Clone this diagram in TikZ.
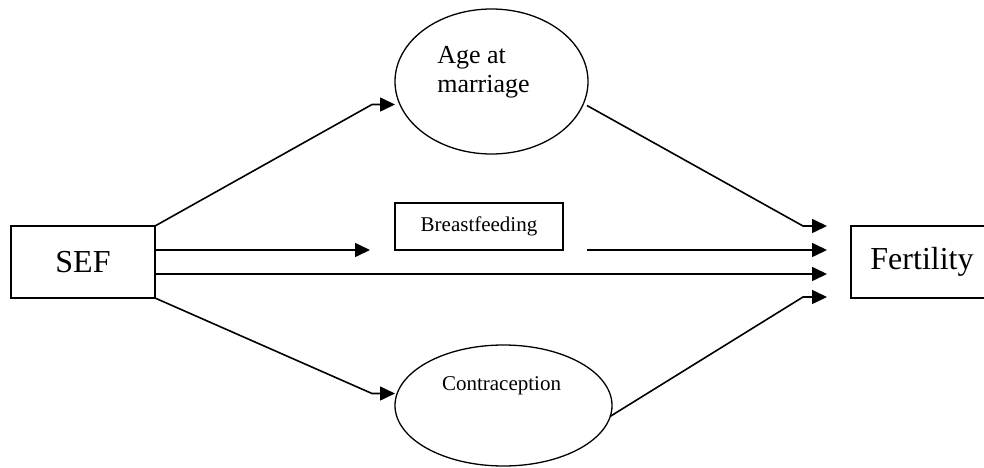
\documentclass[tikz,border=0pt]{standalone}
\usepackage{fontspec}
\setmainfont{Liberation Serif}
\usepackage{tikz}
\usetikzlibrary{arrows.meta,shapes}

\begin{document}
\begin{tikzpicture}[>={Triangle[length=15bp,width=14bp]},line width=1.6bp,every node/.style={outer sep=0pt,inner sep=0pt}]
\useasboundingbox (0bp,0bp) rectangle (984bp,-468bp);
\node (SEF) at (83bp,-262bp)[draw,rectangle,minimum width=144bp,minimum height=72bp,font=\fontsize{32bp}{36bp}\selectfont] {SEF};
\node (Fert) at (922bp,-262bp)[draw,rectangle,minimum width=142bp,minimum height=72bp,font=\fontsize{32bp}{36bp}\selectfont] {Fertility};
\node (Breast) at (479bp,-226.5bp)[draw,rectangle,minimum width=168bp,minimum height=47bp,font=\fontsize{21bp}{24bp}\selectfont] {Breastfeeding};
\node (Age) at (491.5bp,-81.5bp)[draw,ellipse,minimum width=193bp,minimum height=145bp,line width=1.3bp] {};
\node (AgeTxt) at ([xshift=-8bp,yshift=9bp]Age.center)[align=left,font=\fontsize{26bp}{29bp}\selectfont] {Age at\\marriage};
\node (Contra) at (503.5bp,-405.5bp)[draw,ellipse,minimum width=217bp,minimum height=121bp,line width=1.3bp] {};
\node (ContraTxt) at ([xshift=-2bp,yshift=20bp]Contra.center)[font=\fontsize{21bp}{24bp}\selectfont] {Contraception};
\draw [->] (SEF.north east) -- ([xshift=-23bp,yshift=-23bp]Age.west) -- ([yshift=-23bp]Age.west);
\draw [->] ([yshift=12bp]SEF.east) -- ([xshift=-25bp]Breast.south west);
\draw [->] ([yshift=-12bp]SEF.east) -- ([xshift=-24bp,yshift=-12bp]Fert.west);
\draw [->] (SEF.south east) -- ([xshift=-23bp,yshift=12bp]Contra.west) -- ([yshift=12bp]Contra.west);
\draw [->] ([xshift=-1bp,yshift=-24bp]Age.east) -- ([xshift=-48bp]Fert.north west) -- ([xshift=-24bp]Fert.north west);
\draw [->] ([xshift=24bp]Breast.south east) -- ([xshift=-24bp,yshift=12bp]Fert.west);
\draw [->] ([xshift=-2bp,yshift=-11bp]Contra.east) -- ([xshift=-48bp,yshift=1bp]Fert.south west) -- ([xshift=-24bp,yshift=1bp]Fert.south west);
\end{tikzpicture}
\end{document}
